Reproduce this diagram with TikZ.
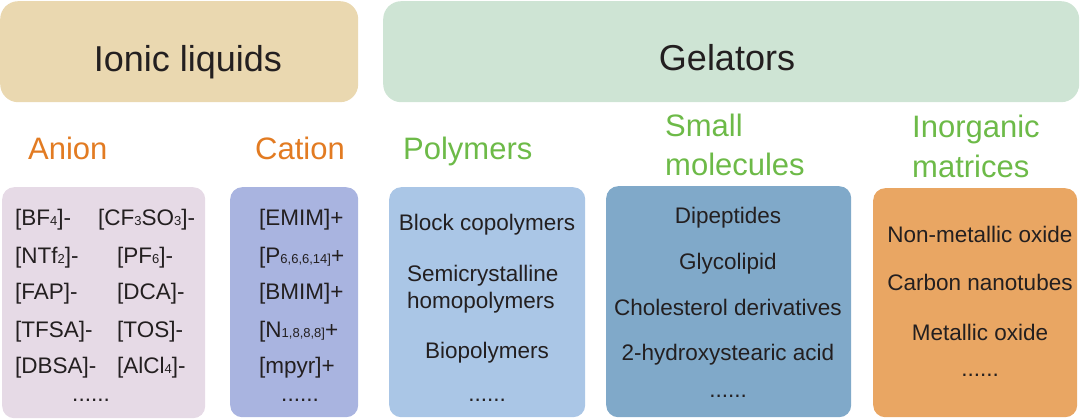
\documentclass[tikz,border=0pt]{standalone}
\usepackage{fontspec}
\setmainfont{Liberation Sans}
\usepackage{xcolor}
\usepackage{tikz}
\definecolor{ilsand}{HTML}{EAD8B0}
\definecolor{gelmint}{HTML}{CEE4D4}
\definecolor{anionlilac}{HTML}{E6DAE6}
\definecolor{cationblue}{HTML}{A9B4E0}
\definecolor{polyblue}{HTML}{AAC6E6}
\definecolor{smallsteel}{HTML}{80A9C9}
\definecolor{inorgorange}{HTML}{E9A663}
\definecolor{ionorange}{HTML}{E27B22}
\definecolor{gelgreen}{HTML}{6DBA48}
\definecolor{inkgray}{HTML}{231F20}
\newcommand{\chemsub}[1]{{\fontsize{13pt}{13pt}\selectfont #1}}

\begin{document}
\begin{tikzpicture}[x=1pt, y=-1pt,
    headbox/.style={rounded corners=18pt, inner sep=0pt, anchor=north west},
    listbox/.style={rounded corners=12pt, inner sep=0pt, anchor=north west},
    headtext/.style={anchor=base, text=inkgray, inner sep=0pt, font=\fontsize{36pt}{40pt}\selectfont},
    subhead/.style={anchor=base west, inner sep=0pt, font=\fontsize{31pt}{36pt}\selectfont},
    item/.style={anchor=base west, inner sep=0pt, text=inkgray, font=\fontsize{22.5pt}{26pt}\selectfont},
    citem/.style={item, anchor=base}]
  \useasboundingbox (0,0) rectangle (1080,420);

  % top bars
  \node[headbox, fill=ilsand, minimum width=358pt, minimum height=101pt] (ionicbox) at (0,1) {};
  \node[headbox, fill=gelmint, minimum width=696pt, minimum height=101pt] (gelbox) at (383,1) {};
  \node[headtext] (ionic) at (188,72) {Ionic liquids};
  \node[headtext] (gelators) at (727,71) {Gelators};

  % column headings
  \node[subhead, text=ionorange] (anion) at (28,159) {Anion};
  \node[subhead, text=ionorange] (cation) at (255,159) {Cation};
  \node[subhead, text=gelgreen] (polymers) at (403,159) {Polymers};
  \node[subhead, text=gelgreen] (smalla) at (665,136) {Small};
  \node[subhead, text=gelgreen] (smallb) at (665,175) {molecules};
  \node[subhead, text=gelgreen] (inorga) at (912,138) {Inorganic};
  \node[subhead, text=gelgreen] (inorgb) at (912,177) {matrices};

  % boxes
  \node[listbox, fill=anionlilac, minimum width=203pt, minimum height=231pt] (anionbox) at (2,187) {};
  \node[listbox, fill=cationblue, minimum width=128pt, minimum height=230pt] (cationbox) at (230,187) {};
  \node[listbox, fill=polyblue, minimum width=196pt, minimum height=230pt] (polybox) at (389,187) {};
  \node[listbox, fill=smallsteel, minimum width=245pt, minimum height=231pt] (smallbox) at (606,186) {};
  \node[listbox, fill=inorgorange, minimum width=204pt, minimum height=229pt] (inorgbox) at (873,188) {};

  % anions
  \foreach \ion/\y [count=\i] in {{[BF\chemsub{4}]-}/225, {[NTf\chemsub{2}]-}/263,
      {[FAP]-}/299, {[TFSA]-}/337, {[DBSA]-}/373}
    \node[item] (anl\i) at (15,\y) {\ion};
  \node[item] (anr1) at (98,225) {[CF\chemsub{3}SO\chemsub{3}]-};
  \foreach \ion/\y [count=\i from 2] in {{[PF\chemsub{6}]-}/263, {[DCA]-}/299,
      {[TOS]-}/337, {[AlCl\chemsub{4}]-}/373}
    \node[item] (anr\i) at (117,\y) {\ion};
  \node[citem] (andots) at (91,401) {......};

  % cations
  \foreach \ion/\y [count=\i] in {{[EMIM]+}/225, {[P\chemsub{6,6,6,14]}+}/263,
      {[BMIM]+}/299, {[N\chemsub{1,8,8,8]}+}/337, {[mpyr]+}/373}
    \node[item] (cat\i) at (259,\y) {\ion};
  \node[citem] (catdots) at (300,401) {......};

  % polymers
  \node[citem] (poly1) at (487,230) {Block copolymers};
  \node[item] (poly2) at (407,281) {Semicrystalline};
  \node[item] (poly3) at (407,308) {homopolymers};
  \node[citem] (poly4) at (487,358) {Biopolymers};
  \node[citem] (polydots) at (487,401) {......};

  % small molecules
  \foreach \mol/\y [count=\i] in {Dipeptides/223, Glycolipid/269,
      Cholesterol derivatives/315, 2-hydroxystearic acid/360}
    \node[citem] (small\i) at (728,\y) {\mol};
  \node[citem] (smalldots) at (728,397) {......};

  % inorganic matrices
  \foreach \mol/\y [count=\i] in {Non-metallic oxide/242, Carbon nanotubes/290,
      Metallic oxide/340}
    \node[citem] (inorg\i) at (980,\y) {\mol};
  \node[citem] (inorgdots) at (980,376) {......};
\end{tikzpicture}
\end{document}
